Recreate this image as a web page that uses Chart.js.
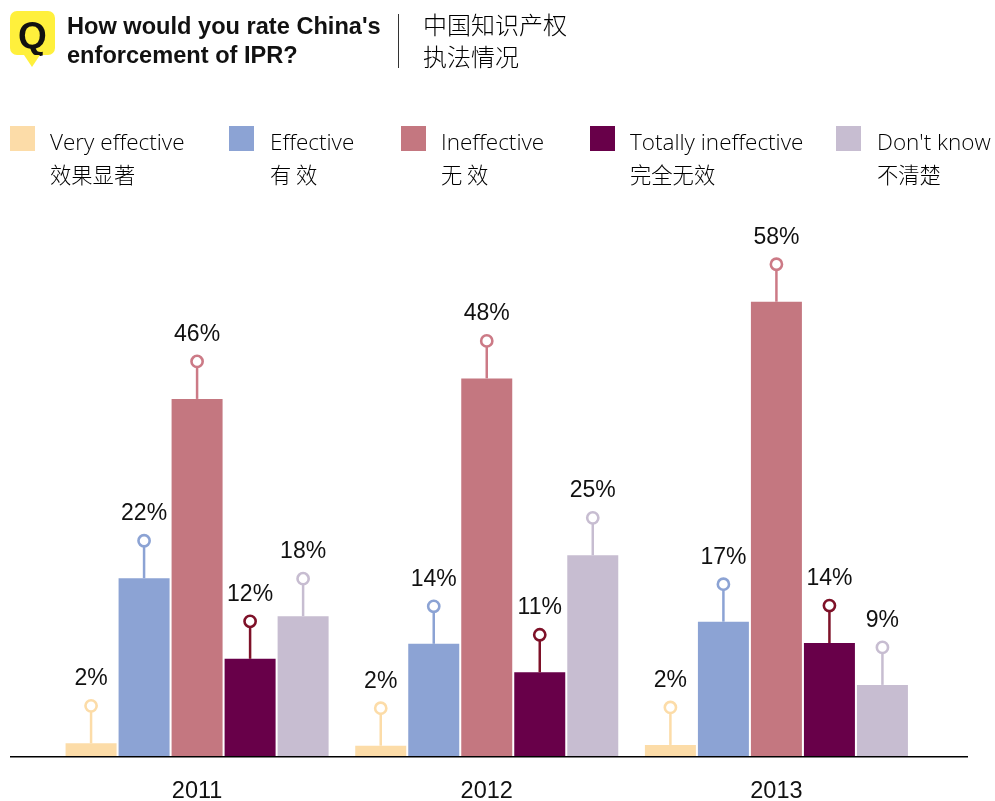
<!DOCTYPE html>
<html><head><meta charset="utf-8">
<script src="https://cdn.jsdelivr.net/npm/chart.js@4"></script>
<style>
html,body{margin:0;padding:0;background:#fff;width:995px;height:801px;overflow:hidden}
#wrap{position:relative;width:995px;height:801px}
canvas{position:absolute;left:0;top:0}
.t{position:absolute;white-space:nowrap;color:#000;line-height:1}
.en{font-family:"Open Sans",sans-serif;font-weight:300;font-size:22.5px}
.cn{font-family:"Noto Sans CJK SC",sans-serif;font-weight:300;font-size:21.3px}
.ti{font-family:"Liberation Sans",sans-serif;font-weight:700;font-size:23.6px;color:#111}
.tc{font-family:"Noto Sans CJK SC",sans-serif;font-weight:300;font-size:24px}
.sw{position:absolute;width:25px;height:25px;top:126px}
#q{position:absolute;left:10px;top:11px;width:45px;height:44px;background:#FFF03C;border-radius:7px;text-align:center;font:700 37px/49px "Liberation Sans",sans-serif;color:#111}
#qt{position:absolute;left:24px;top:55px;width:0;height:0;border-left:8px solid transparent;border-right:8px solid transparent;border-top:12px solid #FFF03C}
#dv{position:absolute;left:398px;top:14px;width:1px;height:54px;background:#333}
</style></head>
<body><div id="wrap"><canvas id="c" width="995" height="801"></canvas><div id="hdr"></div></div>
<script>
const categories = ["2011","2012","2013"];
const seriesEn = ["Very effective","Effective","Ineffective","Totally ineffective","Don't know"];
const seriesCn = ["效果显著","有 效","无 效","完全无效","不清楚"];
const barColors = ["#FCDCA8","#8CA3D4","#C47780","#680049","#C7BDD1"];
const pinColors = ["#FCDCA8","#8CA3D4","#CC7A86","#7E1128","#C7BDD1"];
const veryEffective = [1.6,1.3,1.4];
const effective = [22.5,14.2,17.0];
const ineffective = [45.2,47.8,57.5];
const totallyIneffective = [12.3,10.6,14.3];
const dontKnow = [17.7,25.4,9.0];
const labelsVery = ["2%","2%","2%"];
const labelsEff = ["22%","14%","17%"];
const labelsIneff = ["46%","48%","58%"];
const labelsTotal = ["12%","11%","14%"];
const labelsDk = ["18%","25%","9%"];
const allValues = [veryEffective,effective,ineffective,totallyIneffective,dontKnow];
const allLabels = [labelsVery,labelsEff,labelsIneff,labelsTotal,labelsDk];
const legendX = [10,229,401,590,836];
const legendTextX = [50,270,441,630,877];

const hdr = document.getElementById('hdr');
let h = '<div id="q">Q</div><div id="qt"></div><div id="dv"></div>'
 + '<div class="t ti" style="left:67px;top:15px">How would you rate China\'s</div>'
 + '<div class="t ti" style="left:67px;top:44px">enforcement of IPR?</div>'
 + '<div class="t tc" style="left:423px;top:12px">中国知识产权</div>'
 + '<div class="t tc" style="left:423px;top:44px">执法情况</div>';
seriesEn.forEach((s,i)=>{
  h += `<div class="sw" style="left:${legendX[i]}px;background:${barColors[i]}"></div>`
    + `<div class="t en" style="left:${legendTextX[i]}px;top:131px">${s}</div>`
    + `<div class="t cn" style="left:${legendTextX[i]}px;top:163px">${seriesCn[i]}</div>`;
});
hdr.innerHTML = h;

const pins = {
  id:'pins',
  afterDatasetsDraw(chart){
    const ctx = chart.ctx;
    ctx.save();
    ctx.strokeStyle='#000'; ctx.lineWidth=1.5;
    ctx.beginPath(); ctx.moveTo(10,chart.chartArea.bottom+0.75); ctx.lineTo(968,chart.chartArea.bottom+0.75); ctx.stroke();
    chart.data.datasets.forEach((ds,d)=>{
      chart.getDatasetMeta(d).data.forEach((bar,i)=>{
        const cy = bar.y-37.5;
        ctx.strokeStyle=pinColors[d]; ctx.lineWidth=2.5;
        ctx.beginPath(); ctx.moveTo(bar.x,bar.y); ctx.lineTo(bar.x,cy+5); ctx.stroke();
        ctx.lineWidth=2.6; ctx.fillStyle='#fff';
        ctx.beginPath(); ctx.arc(bar.x,cy,5.6,0,Math.PI*2); ctx.fill(); ctx.stroke();
        ctx.fillStyle='#111'; ctx.font='23px "Liberation Sans",sans-serif';
        ctx.textAlign='center'; ctx.textBaseline='middle';
        ctx.fillText(allLabels[d][i],bar.x,cy-27);
      });
    });
    ctx.restore();
  }
};

new Chart(document.getElementById('c'),{
  type:'bar',
  data:{labels:categories,datasets:seriesEn.map((s,i)=>({label:s,data:allValues[i],backgroundColor:barColors[i],barPercentage:0.962,categoryPercentage:0.915,borderWidth:0}))},
  options:{
    responsive:false,animation:false,
    layout:{padding:{left:52.25,right:73.75,top:45,bottom:0}},
    plugins:{legend:{display:false},tooltip:{enabled:false},title:{display:false}},
    scales:{
      x:{grid:{display:false},border:{display:false},afterFit(s){s.height=45},
         ticks:{color:'#111',font:{family:'"Liberation Sans",sans-serif',size:23.5,weight:'400'},padding:13,maxRotation:0}},
      y:{display:false,min:0,max:90}
    }
  },
  plugins:[pins]
});
</script></body></html>
